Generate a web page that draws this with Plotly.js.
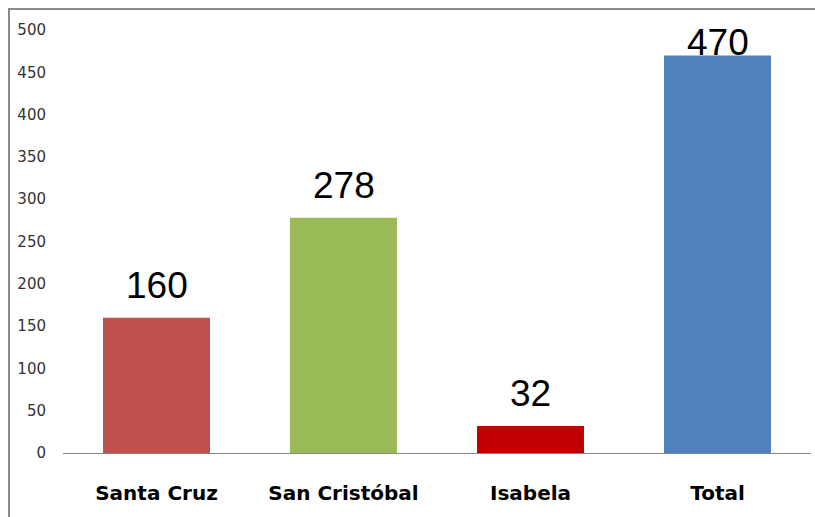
<!DOCTYPE html>
<html>
<head>
<meta charset="utf-8">
<script src="https://cdn.plot.ly/plotly-3.0.1.min.js"></script>
<style>
  html, body { margin: 0; padding: 0; background: #fff; overflow: hidden; }
  #wrap { position: relative; width: 815px; height: 517px; }
  #frame { position: absolute; left: 8px; top: 8px; width: 900px; height: 600px;
           border-left: 2px solid #8a8a8a; border-top: 2px solid #8a8a8a; box-sizing: border-box; }
  #chart { position: absolute; left: 0; top: 0; width: 815px; height: 517px; }
</style>
</head>
<body>
<div id="wrap">
  <div id="frame"></div>
  <div id="chart"></div>
</div>
<script>
const categories = ["Santa Cruz", "San Cristóbal", "Isabela", "Total"];
const values = [160, 278, 32, 470];
const barColors = ["#C0504D", "#9BBB59", "#C00000", "#4F81BD"];
const yTicks = [0, 50, 100, 150, 200, 250, 300, 350, 400, 450, 500];

const W = 815, H = 517;
const margin = {l: 63, r: 4, t: 30, b: 64, pad: 0};
const plotH = H - margin.t - margin.b;
const yMax = 500;

// Data labels: 20px above bar top, but kept inside the plot area (clipped like the original)
const labelFont = 37;
const annotations = values.map(function (v, i) {
  const barTop = margin.t + plotH * (1 - v / yMax);
  const glyphBottom = Math.max(barTop - 20, margin.t + 25);
  const shift = barTop - glyphBottom;
  return {
    x: categories[i], y: v, xref: 'x', yref: 'y',
    text: String(v), showarrow: false, yanchor: 'bottom', borderpad: 0,
    yshift: shift - 9,
    font: {family: 'Liberation Sans, Arial, sans-serif', size: labelFont, color: '#000'}
  };
});

const trace = {
  type: 'bar',
  x: categories,
  y: values,
  marker: {color: barColors, line: {width: 0}},
  hoverinfo: 'none'
};

const layout = {
  width: W, height: H,
  margin: margin,
  paper_bgcolor: 'rgba(0,0,0,0)',
  plot_bgcolor: 'rgba(0,0,0,0)',
  showlegend: false,
  bargap: 0.428,
  xaxis: {
    type: 'category',
    showgrid: false, zeroline: false,
    showline: true, linecolor: '#868686', linewidth: 1,
    ticks: 'outside', ticklen: 22, tickcolor: 'rgba(0,0,0,0)',
    tickfont: {family: 'DejaVu Sans, sans-serif', size: 20, color: '#000', weight: 'bold'},
    fixedrange: true
  },
  yaxis: {
    range: [0, yMax],
    tickvals: yTicks, ticktext: yTicks.map(String),
    showgrid: false, zeroline: false, showline: false,
    ticks: 'outside', ticklen: 13, tickcolor: 'rgba(0,0,0,0)',
    tickfont: {family: 'DejaVu Sans, sans-serif', size: 15, color: '#333'},
    fixedrange: true
  },
  annotations: annotations
};

Plotly.newPlot('chart', [trace], layout, {displayModeBar: false, staticPlot: true});
</script>
</body>
</html>
